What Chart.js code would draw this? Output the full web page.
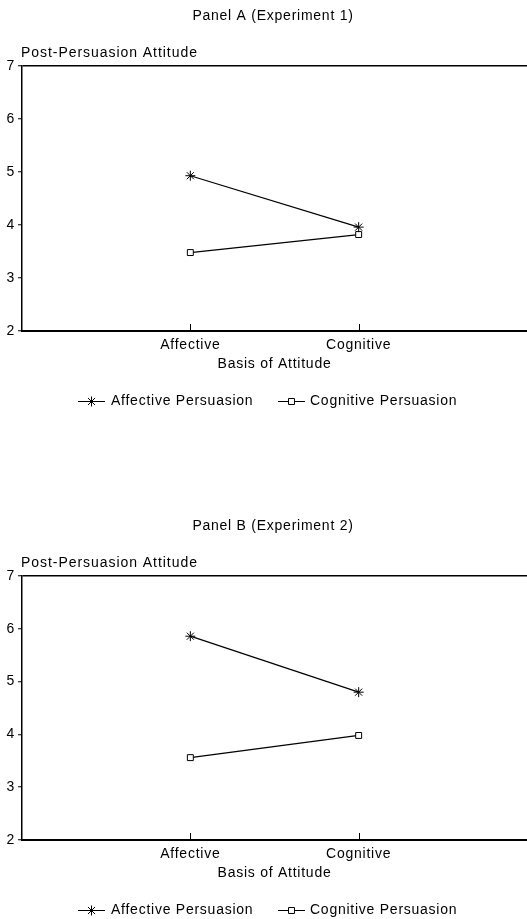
<!DOCTYPE html>
<html><head><meta charset="utf-8">
<script src="https://cdn.jsdelivr.net/npm/chart.js@4/dist/chart.umd.min.js"></script>
<style>
html,body{margin:0;padding:0;background:#fff;width:527px;height:919px;overflow:hidden}
.panel{position:absolute;left:0;width:527px}
#pa{top:0;height:420px}
#pb{top:510px;height:409px}
</style></head><body>
<div class="panel" id="pa"><canvas id="ca"></canvas></div>
<div class="panel" id="pb"><canvas id="cb"></canvas></div>
<script>
const categories = ['Affective', 'Cognitive'];
const seriesNames = ['Affective Persuasion', 'Cognitive Persuasion'];
const panelTitles = ['Panel A (Experiment 1)', 'Panel B (Experiment 2)'];
const yTickLabels = ['2', '3', '4', '5', '6', '7'];
const yTitle = 'Post-Persuasion Attitude';
const xTitle = 'Basis of Attitude';
const exp1Affective = [4.93, 3.96];
const exp1Cognitive = [3.48, 3.82];
const exp2Affective = [5.86, 4.80];
const exp2Cognitive = [3.56, 3.98];

const FONT = '"Liberation Sans", Arial, Helvetica, sans-serif';
const LS = '0.75px';
Chart.defaults.font.family = FONT;
Chart.defaults.font.size = 14;
Chart.defaults.color = '#000';

const textPlugin = {
  id: 'panelText',
  beforeDraw(chart) { chart.ctx.letterSpacing = LS; },
  afterDraw(chart, args, opts) {
    const ctx = chart.ctx, a = chart.chartArea;
    ctx.save();
    ctx.letterSpacing = LS;
    ctx.fillStyle = '#000';
    ctx.font = '14px ' + FONT;
    ctx.textBaseline = 'middle';
    ctx.textAlign = 'center';
    ctx.fillText(opts.title, 273, 16);
    ctx.textAlign = 'left';
    ctx.letterSpacing = '0.95px';
    ctx.fillText(yTitle, a.left - 1, a.top - 13);
    ctx.letterSpacing = LS;
    // inward x ticks at categories
    const xs = chart.scales.x;
    ctx.strokeStyle = '#000';
    ctx.lineWidth = 1;
    categories.forEach((c, i) => {
      const px = Math.round(xs.getPixelForValue(i + 1)) + 0.5;
      ctx.beginPath(); ctx.moveTo(px, a.bottom); ctx.lineTo(px, a.bottom - 7); ctx.stroke();
    });
    // legend
    const ly = a.bottom + 70;
    const symX = [78, 278], txtX = [111, 310];
    chart.data.datasets.forEach((ds, i) => {
      ctx.strokeStyle = '#000'; ctx.lineWidth = 1;
      ctx.beginPath(); ctx.moveTo(symX[i], ly + 0.5); ctx.lineTo(symX[i] + 27, ly + 0.5); ctx.stroke();
      ctx.fillStyle = ds.pointBackgroundColor;
      ctx.strokeStyle = '#000';
      Chart.helpers.drawPoint(ctx, {pointStyle: ds.pointStyle, radius: ds.pointRadius, rotation: 0, borderWidth: 1}, symX[i] + 13.5, ly + 0.5);
      ctx.fillStyle = '#000';
      ctx.fillText(ds.label, txtX[i], ly);
    });
    ctx.restore();
  }
};

function makePanel(id, title, affVals, cogVals, padBottom) {
  return new Chart(document.getElementById(id), {
    type: 'line',
    data: {
      datasets: [
        {label: seriesNames[0], data: affVals.map((v, i) => ({x: i + 1, y: v})),
         borderColor: '#000', borderWidth: 1.2, pointStyle: 'star', pointRadius: 5,
         pointBorderWidth: 1, pointBorderColor: '#000', pointBackgroundColor: '#000', fill: false, tension: 0},
        {label: seriesNames[1], data: cogVals.map((v, i) => ({x: i + 1, y: v})),
         borderColor: '#000', borderWidth: 1.2, pointStyle: 'rect', pointRadius: 4.2,
         pointBorderWidth: 1, pointBorderColor: '#000', pointBackgroundColor: '#fff', fill: false, tension: 0}
      ]
    },
    options: {
      responsive: true, maintainAspectRatio: false, animation: false, devicePixelRatio: 1,
      layout: {autoPadding: false, padding: {top: 66, left: 0, right: 0, bottom: padBottom}},
      plugins: {legend: {display: false}, tooltip: {enabled: false}, panelText: {title: title}},
      scales: {
        x: {
          type: 'linear', min: 0, max: categories.length + 1,
          afterFit: s => { s.height = 42; s.paddingRight = 0; s.paddingLeft = 0; },
          grid: {display: false, drawTicks: false},
          border: {display: true, color: '#000', width: 2},
          ticks: {stepSize: 1, autoSkip: false, maxRotation: 0, padding: 6, color: '#000',
                  callback: v => (Number.isInteger(v) && v >= 1 && v <= categories.length) ? categories[v - 1] : ''},
          title: {display: true, text: xTitle, color: '#000', padding: {top: 0, bottom: 0}}
        },
        y: {
          type: 'linear', min: 2, max: 7,
          afterFit: s => { s.width = 22; },
          grid: {drawOnChartArea: true, drawTicks: true, tickLength: 4, tickColor: '#000', tickWidth: 1,
                 color: c => (c.tick && c.tick.value === 7) ? '#000' : 'rgba(0,0,0,0)', lineWidth: 1.5},
          border: {display: true, color: '#000', width: 1.5},
          ticks: {stepSize: 1, padding: 3, color: '#000',
                  callback: v => yTickLabels[v - 2]}
        }
      }
    },
    plugins: [textPlugin]
  });
}

makePanel('ca', panelTitles[0], exp1Affective, exp1Cognitive, 47);
makePanel('cb', panelTitles[1], exp2Affective, exp2Cognitive, 37);
</script>
</body></html>
